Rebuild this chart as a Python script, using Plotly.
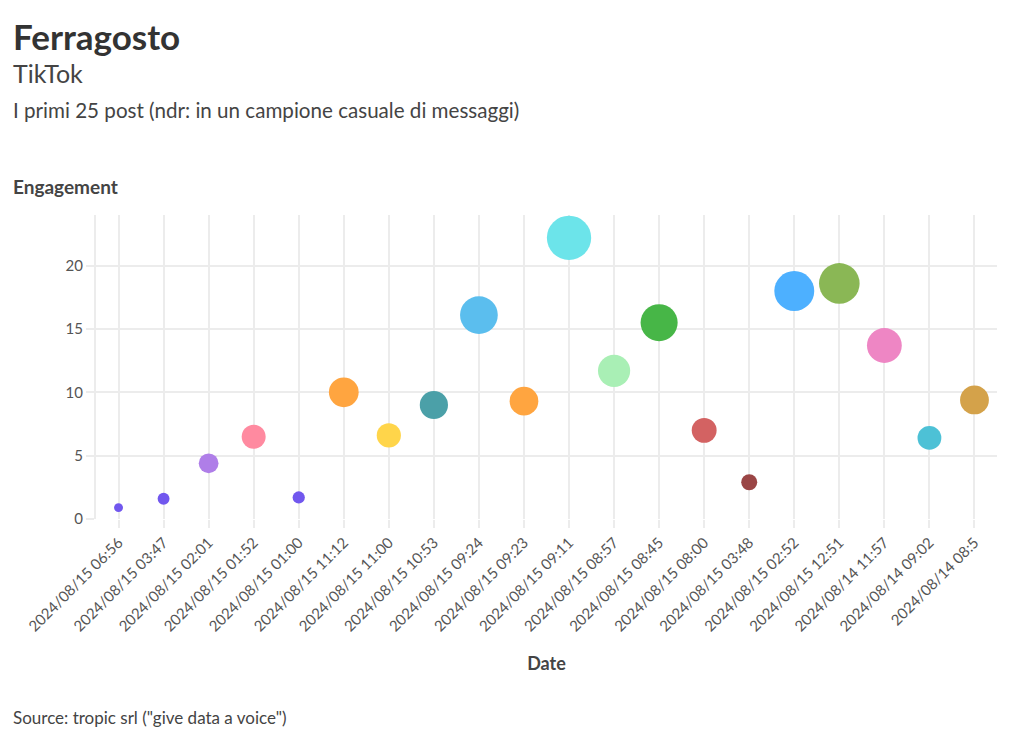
import plotly.graph_objects as go

dates = [
    "2024/08/15 06:56", "2024/08/15 03:47", "2024/08/15 02:01", "2024/08/15 01:52",
    "2024/08/15 01:00", "2024/08/15 11:12", "2024/08/15 11:00", "2024/08/15 10:53",
    "2024/08/15 09:24", "2024/08/15 09:23", "2024/08/15 09:11", "2024/08/15 08:57",
    "2024/08/15 08:45", "2024/08/15 08:00", "2024/08/15 03:48", "2024/08/15 02:52",
    "2024/08/15 12:51", "2024/08/14 11:57", "2024/08/14 09:02", "2024/08/14 08:5",
]
engagement = [0.9, 1.6, 4.4, 6.5, 1.7, 10.0, 6.6, 9.0, 16.1, 9.3,
              22.2, 11.7, 15.5, 7.0, 2.9, 18.0, 18.6, 13.7, 6.4, 9.4]
colors = [
    "#7157EE", "#7157EE", "#AF7EE8", "#FF8AA0", "#7157EE", "#FFA540", "#FFD54A", "#4BA0A8",
    "#5BBEEE", "#FFA540", "#6CE4EA", "#A9EFB5", "#47B647", "#D36262", "#9A4545", "#4DB0FF",
    "#8AB755", "#EE86C4", "#4DC1D6", "#D4A24A",
]

GRID = "#ececec"
FONT = "Lato, 'Noto Sans', sans-serif"

fig = go.Figure()
fig.add_trace(go.Scatter(
    x=dates, y=engagement, mode="markers",
    marker=dict(size=engagement, sizemode="area", sizeref=0.0226, sizemin=2,
                color=colors, opacity=1, line=dict(width=0)),
    hovertemplate="%{x}<br>%{y}<extra></extra>",
))

# page has an 8px body margin; figure is sized to fit inside the window
fig.update_layout(
    width=1008, height=724,
    margin=dict(l=88, r=19, t=207, b=213),
    paper_bgcolor="white", plot_bgcolor="white",
    font=dict(family=FONT, color="#444", size=15),
    showlegend=False,
    xaxis=dict(
        type="category", range=[-0.5, 19.5], tickangle=-45,
        showgrid=True, gridcolor=GRID, gridwidth=2,
        ticks="outside", ticklen=8, tickcolor=GRID, tickwidth=2,
        showline=False, zeroline=False,
        tickfont=dict(size=15, color="#555"),
        title=dict(text="<b>Date</b>", font=dict(size=18, color="#444"), standoff=23),
    ),
    yaxis=dict(
        range=[0, 24], tickvals=[0, 5, 10, 15, 20],
        showgrid=True, gridcolor=GRID, gridwidth=2,
        ticks="outside", ticklen=8, tickcolor=GRID, tickwidth=2,
        showline=True, linecolor=GRID, linewidth=2,
        zeroline=False,
        tickfont=dict(size=15, color="#555"),
    ),
)

# convert absolute page pixel positions into paper coordinates of the plot area
def px_x(x):
    return (x - 96) / (997 - 96)

def px_y(y):
    return (519 - y) / (519 - 215)

LEFT = 11
anns = [
    dict(text="<b>Ferragosto</b>", x=px_x(LEFT), y=px_y(36), font=dict(size=35, color="#333")),
    dict(text="TikTok", x=px_x(LEFT), y=px_y(73), font=dict(size=25, color="#444")),
    dict(text="I primi 25 post (ndr: in un campione casuale di messaggi)", x=px_x(LEFT), y=px_y(110),
         font=dict(size=20.6, color="#444")),
    dict(text="<b>Engagement</b>", x=px_x(LEFT), y=px_y(186), font=dict(size=19, color="#444")),
    dict(text="Source: tropic srl (\"give data a voice\")", x=px_x(LEFT), y=px_y(717),
         font=dict(size=17, color="#444")),
]
for a in anns:
    fig.add_annotation(xref="paper", yref="paper", xanchor="left", yanchor="middle",
                       showarrow=False, **a)

fig.write_html("out.html")
